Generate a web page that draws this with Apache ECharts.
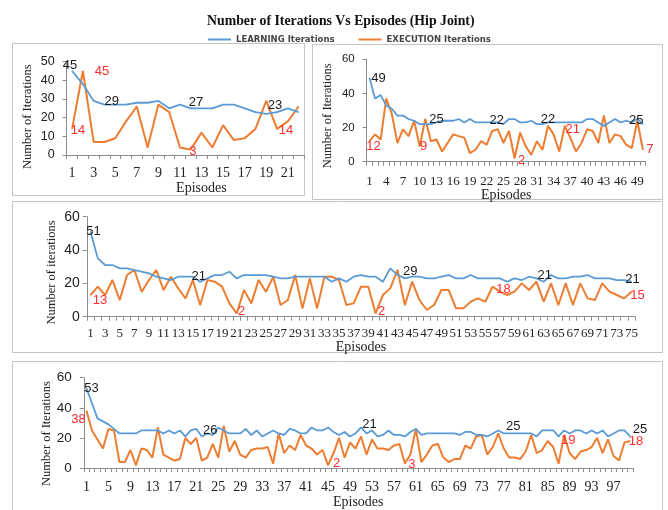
<!DOCTYPE html>
<html>
<head>
<meta charset="utf-8">
<script src="https://cdn.jsdelivr.net/npm/echarts@6/dist/echarts.min.js"></script>
<style>
html,body{margin:0;padding:0;background:#fff;}
#chart{width:668px;height:510px;}
</style>
</head>
<body>
<div id="chart"></div>
<script>
// panel 1 (top left)
var tlLearn = [45,38,29,27,27,27,28,28,29,25,27,25,25,25,27,27,25,23,22,23,25,23];
var tlExec = [14,45,7,7,9,18,26,4,27,23,4,3,12,4,16,8,9,14,29,14,18,26];
// values written on the curves: [index, text]
var tlLearnNotes = [[0,'45'],[2,'29'],[10,'27'],[19,'23']];
var tlExecNotes = [[0,'14'],[1,'45'],[11,'3'],[19,'14']];

// panel 2 (top right)
var trLearn = [49,37,39,33,31,27,27,25,24,22,22,22,23,24,24,24,25,23,25,23,
    23,23,23,23,22,25,25,23,23,24,22,22,23,23,23,23,23,23,23,25,
    25,23,21,23,25,23,24,23,25,22];
var trExec = [12,16,13,37,28,11,19,15,24,9,25,12,13,6,11,16,15,14,5,7,
    12,10,18,19,11,18,2,17,9,4,12,7,21,16,6,21,14,6,11,19,
    18,11,27,11,16,15,10,8,24,7];
var trLearnNotes = [[0,'49'],[12,'25'],[23,'22'],[32,'22'],[48,'25']];
var trExecNotes = [[0,'12'],[9,'9'],[26,'2'],[35,'21'],[49,'7']];

// panel 3 (middle)
var mLearn = [51,35,31,31,29,29,28,27,26,24,23,22,24,24,24,21,23,25,25,27,
    23,25,25,25,25,24,23,23,24,24,24,24,24,21,23,21,24,25,24,24,
    21,29,25,23,24,24,23,23,24,25,23,23,25,23,23,23,23,21,23,22,
    24,23,21,25,23,23,24,24,25,23,23,23,22,22,21];
var mExec = [13,18,13,22,10,25,28,15,22,28,16,24,17,11,22,7,22,21,18,8,
    2,16,8,22,15,24,7,10,25,5,23,5,24,24,22,7,8,18,18,2,
    13,17,28,7,21,10,4,7,16,16,5,5,9,11,9,18,15,13,15,20,
    16,21,9,20,7,20,7,20,11,10,20,15,13,11,15];
var mLearnNotes = [[0,'51'],[15,'21'],[41,'29'],[62,'21'],[74,'21']];
var mExecNotes = [[0,'13'],[20,'2'],[39,'2'],[55,'18'],[74,'15']];

// panel 4 (bottom)
var bLearn = [53,43,33,31,29,26,23,23,23,23,25,25,25,25,23,25,23,25,21,25,
    26,21,23,22,27,25,23,23,23,26,22,25,21,23,25,23,22,26,25,23,
    23,27,25,25,27,24,22,24,21,23,27,23,25,21,22,25,22,22,21,24,
    26,22,23,23,23,23,23,23,22,24,24,22,22,21,23,25,23,23,23,23,
    23,23,21,25,25,25,21,25,23,25,25,23,25,23,25,21,23,25,25,21];
var bExec = [38,25,19,13,26,25,4,4,12,2,13,12,7,27,9,7,5,6,20,16,
    20,5,7,16,7,28,11,18,9,7,12,13,13,14,3,23,10,15,12,22,
    15,13,9,12,2,10,20,7,17,13,21,9,19,13,13,12,15,16,3,9,
    26,4,9,15,16,7,4,6,6,15,13,21,22,9,14,23,13,7,7,6,
    11,22,10,12,18,14,3,22,10,6,11,12,14,20,10,19,8,5,17,18];
var bLearnNotes = [[0,'53'],[20,'26'],[53,'21'],[75,'25'],[98,'25']];
var bExecNotes = [[0,'38'],[44,'2'],[58,'3'],[87,'19'],[99,'18']];

var BLUE = '#5B9BD5', ORANGE = '#ED7D31';
var SERIF = '"Liberation Serif", "Times New Roman", serif';
var SANS = '"Liberation Sans", Arial, sans-serif';

function episodes(n) {
    var a = [];
    for (var i = 1; i <= n; i++) a.push(String(i));
    return a;
}

// label nudges (text centre minus point), same order as the notes
var panels = [
    {learn: tlLearn, exec: tlExec, ln: tlLearnNotes, en: tlExecNotes,
     lo: [[-2,-6],[18,1],[16,-2],[-2,-7]], eo: [[6,2],[19,0],[2,2],[9,2]],
     grid: {left: 66.7, top: 61.7, width: 237.3, height: 93.3},
     yMax: 50, yStep: 10, every: 1, xFont: 14, yFont: 12.5, xMargin: 11, yMargin: 12,
     nameGap: 24, namePad: [0,0,0,32]},
    {learn: trLearn, exec: trExec, ln: trLearnNotes, en: trExecNotes,
     lo: [[9,0],[0,-3],[-1,-2],[0,-3],[-1,1.5]], eo: [[4,5],[4,0],[7,2],[8,4],[7,0]],
     grid: {left: 366.7, top: 59.3, width: 279, height: 102.4},
     yMax: 60, yStep: 20, every: 2, xFont: 13, yFont: 11.5, xMargin: 13, yMargin: 12,
     nameGap: 24, namePad: 0},
    {learn: mLearn, exec: mExec, ln: mLearnNotes, en: mExecNotes,
     lo: [[3,0],[-1.5,-5],[20,3],[1,-6],[1,-2]], eo: [[9.5,5],[5,-2],[6,-2],[11,3],[6,4]],
     grid: {left: 86.85, top: 216.7, width: 548.25, height: 100},
     yMax: 60, yStep: 20, every: 1, xFont: 13, yFont: 14, xMargin: 10, yMargin: 7,
     nameGap: 21, namePad: 0},
    {learn: bLearn, exec: bExec, ln: bLearnNotes, en: bExecNotes,
     lo: [[5,0],[14,1],[-8,-12],[15,-4],[15.5,-1]], eo: [[-8,9],[8.5,-2],[7,1],[4,5],[6,0]],
     grid: {left: 83.75, top: 377.7, width: 549, height: 96.6},
     yMax: 60, yStep: 20, every: 3, xFont: 14, yFont: 13.5, xMargin: 12, yMargin: 12,
     nameGap: 24, namePad: 0}
];

function withNotes(values, notes, offs, color) {
    var data = values.map(function (v) { return v; });
    notes.forEach(function (n, k) {
        data[n[0]] = {
            value: values[n[0]],
            label: {
                show: true,
                position: 'inside',
                offset: offs[k],
                formatter: n[1],
                color: color,
                fontSize: 13,
                fontFamily: SANS
            }
        };
    });
    return data;
}

var grids = [], xAxes = [], yAxes = [], series = [];
panels.forEach(function (p, k) {
    grids.push(p.grid);
    xAxes.push({
        type: 'category', gridIndex: k, data: episodes(p.learn.length), boundaryGap: true,
        name: 'Episodes', nameLocation: 'middle', nameGap: p.nameGap,
        nameTextStyle: {fontFamily: SERIF, fontSize: 14, color: '#222', padding: p.namePad},
        axisLine: {lineStyle: {color: '#8c8c8c'}},
        axisTick: {show: true, interval: 0, length: 4, lineStyle: {color: '#8c8c8c'}},
        axisLabel: {interval: p.every, fontFamily: SERIF, fontSize: p.xFont, color: '#222', margin: p.xMargin},
        splitLine: {show: false}
    });
    yAxes.push({
        type: 'value', gridIndex: k, min: 0, max: p.yMax, interval: p.yStep,
        axisLine: {show: true, lineStyle: {color: '#8c8c8c'}},
        axisTick: {show: true, length: 4, lineStyle: {color: '#8c8c8c'}},
        axisLabel: {fontFamily: SANS, fontSize: p.yFont, color: '#222', margin: p.yMargin},
        splitLine: {show: false}
    });
    series.push({
        name: 'LEARNING Iterations', type: 'line', xAxisIndex: k, yAxisIndex: k,
        data: withNotes(p.learn, p.ln, p.lo, '#1a1a1a'),
        symbol: 'circle', symbolSize: 1, showSymbol: true, showAllSymbol: true,
        itemStyle: {color: BLUE}, lineStyle: {color: BLUE, width: 1.8}, z: 3
    });
    series.push({
        name: 'EXECUTION Iterations', type: 'line', xAxisIndex: k, yAxisIndex: k,
        data: withNotes(p.exec, p.en, p.eo, '#ff2d2d'),
        symbol: 'circle', symbolSize: 1, showSymbol: true, showAllSymbol: true,
        itemStyle: {color: ORANGE}, lineStyle: {color: ORANGE, width: 2}, z: 2
    });
});

var frame = {stroke: '#c4c4c4', fill: 'none', lineWidth: 1};
var yNames = [
    {x: 28, y: 116.7, text: 'Number of Iterations'},
    {x: 328, y: 115.8, text: 'Number of Iterations'},
    {x: 52, y: 272.5, text: 'Number of iterations'},
    {x: 47, y: 433.5, text: 'Number of Iterations'}
];
var graphics = [
    {type: 'rect', shape: {x: 12.5, y: 43.5, width: 292, height: 152}, style: frame, z: -1},
    {type: 'rect', shape: {x: 312.5, y: 44.5, width: 350, height: 155}, style: frame, z: -1},
    {type: 'rect', shape: {x: 12.5, y: 201.5, width: 650, height: 151}, style: frame, z: -1},
    {type: 'rect', shape: {x: 12.5, y: 361.5, width: 650, height: 160}, style: frame, z: -1}
];
yNames.forEach(function (n) {
    graphics.push({
        type: 'text', x: n.x, y: n.y, rotation: Math.PI / 2,
        style: {text: n.text, fontFamily: SERIF, fontSize: 12.5, fill: '#222',
                align: 'center', verticalAlign: 'middle'}
    });
});

var chart = echarts.init(document.getElementById('chart'));
chart.setOption({
    animation: false,
    backgroundColor: '#fff',
    title: {
        text: 'Number of Iterations Vs Episodes (Hip Joint)',
        left: 202, top: 9,
        textStyle: {fontFamily: SERIF, fontWeight: 'bold', fontSize: 13.8, color: '#111'}
    },
    legend: {
        data: ['LEARNING Iterations', 'EXECUTION Iterations'],
        left: 203, top: 30, icon: 'rect', itemWidth: 23, itemHeight: 2, itemGap: 24,
        textStyle: {fontFamily: '"DejaVu Sans", sans-serif', fontSize: 8.5, fontWeight: 'bold', color: '#444'}
    },
    grid: grids,
    xAxis: xAxes,
    yAxis: yAxes,
    series: series,
    graphic: graphics
});
</script>
</body>
</html>
